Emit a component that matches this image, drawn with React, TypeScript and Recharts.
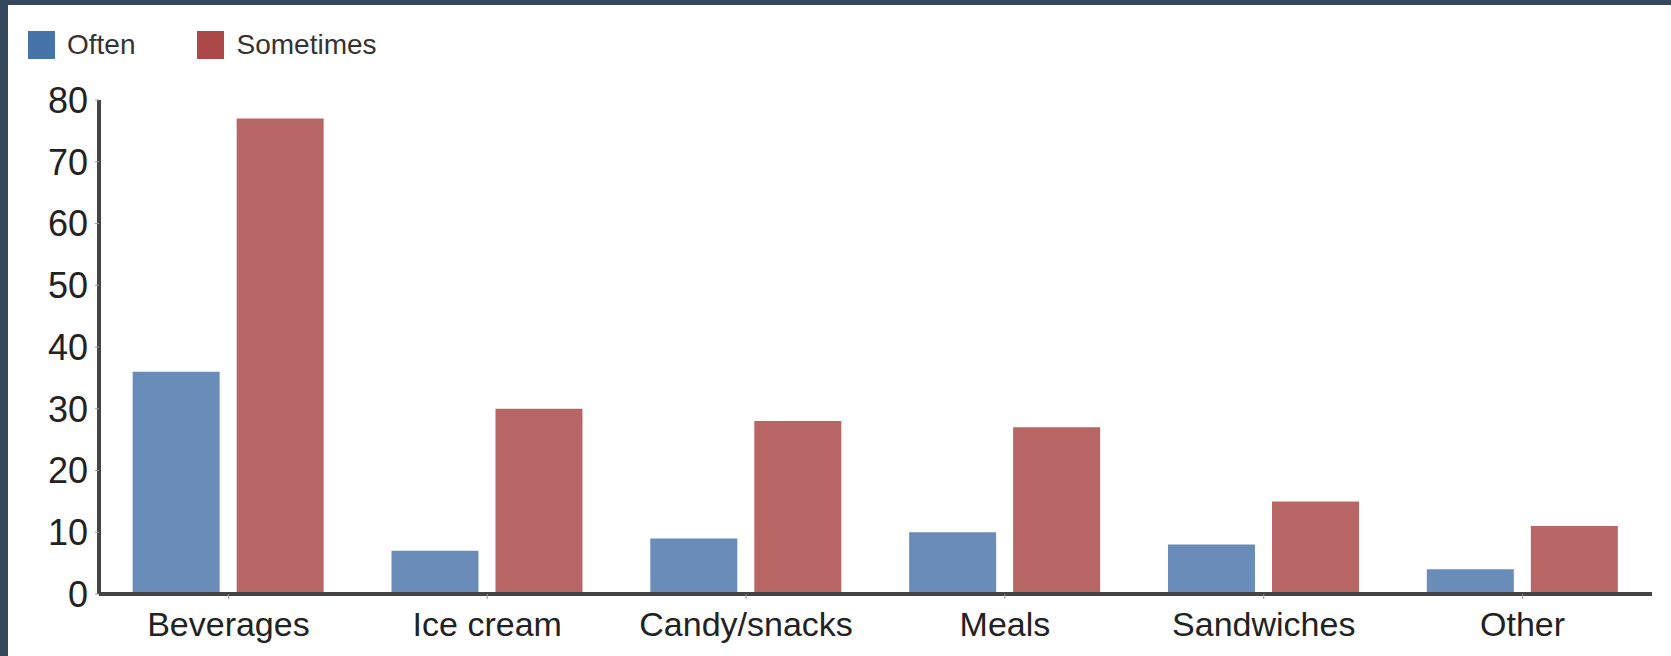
import { Bar, BarChart, Legend, XAxis, YAxis } from "recharts";

const categories = ["Beverages", "Ice cream", "Candy/snacks", "Meals", "Sandwiches", "Other"];
const often = [36, 7, 9, 10, 8, 4];
const sometimes = [77, 30, 28, 27, 15, 11];
const yTicks = [0, 10, 20, 30, 40, 50, 60, 70, 80];

const data = categories.map((name, i) => ({ name, often: often[i], sometimes: sometimes[i] }));

const FONT = '"Liberation Sans", Arial, sans-serif';
const FRAME = "#34495e";

function LegendBox() {
  const items = [
    { label: "Often", color: "#4673a8", gap: 62 },
    { label: "Sometimes", color: "#ad4848", gap: 0 },
  ];
  return (
    <div style={{ display: "flex", alignItems: "center", fontFamily: FONT, fontSize: 28, color: "#333" }}>
      {items.map((it) => (
        <div key={it.label} style={{ display: "flex", alignItems: "center", marginRight: it.gap }}>
          <div style={{ width: 27, height: 28, background: it.color, marginRight: 12 }} />
          <span style={{ lineHeight: "28px" }}>{it.label}</span>
        </div>
      ))}
    </div>
  );
}

export default function App() {
  return (
    <div>
      {/* dark frame: top strip and left strip only */}
      <div style={{ position: "fixed", left: 0, top: 0, width: 1671, height: 5, background: FRAME }} />
      <div style={{ position: "fixed", left: 0, top: 0, width: 8, height: 656, background: FRAME }} />
      <div style={{ position: "fixed", left: 8, top: 5, background: "#fff" }}>
        <BarChart
          width={1663}
          height={651}
          data={data}
          margin={{ top: 95, right: 19, bottom: 0, left: 0 }}
          barCategoryGap="13%"
          barGap={17}
        >
          <Legend
            layout="horizontal"
            verticalAlign="middle"
            align="center"
            wrapperStyle={{ top: 26, left: 20, width: "auto" }}
            content={() => <LegendBox />}
          />
          <Bar dataKey="often" fill="#698db8" isAnimationActive={false} />
          <Bar dataKey="sometimes" fill="#b86566" isAnimationActive={false} />
          <XAxis
            dataKey="name"
            height={62}
            axisLine={{ stroke: "#444", strokeWidth: 4 }}
            tickLine={{ stroke: "#999", strokeWidth: 1 }}
            tickSize={5}
            tickMargin={13}
            tick={{ fill: "#222", fontSize: 34, fontFamily: FONT }}
            interval={0}
          />
          <YAxis
            width={91}
            domain={[0, 80]}
            ticks={yTicks}
            interval={0}
            axisLine={{ stroke: "#444", strokeWidth: 4 }}
            tickLine={{ stroke: "#999", strokeWidth: 1 }}
            tickSize={4}
            tickMargin={7}
            tick={{ fill: "#222", fontSize: 36, fontFamily: FONT }}
          />
        </BarChart>
      </div>
    </div>
  );
}
